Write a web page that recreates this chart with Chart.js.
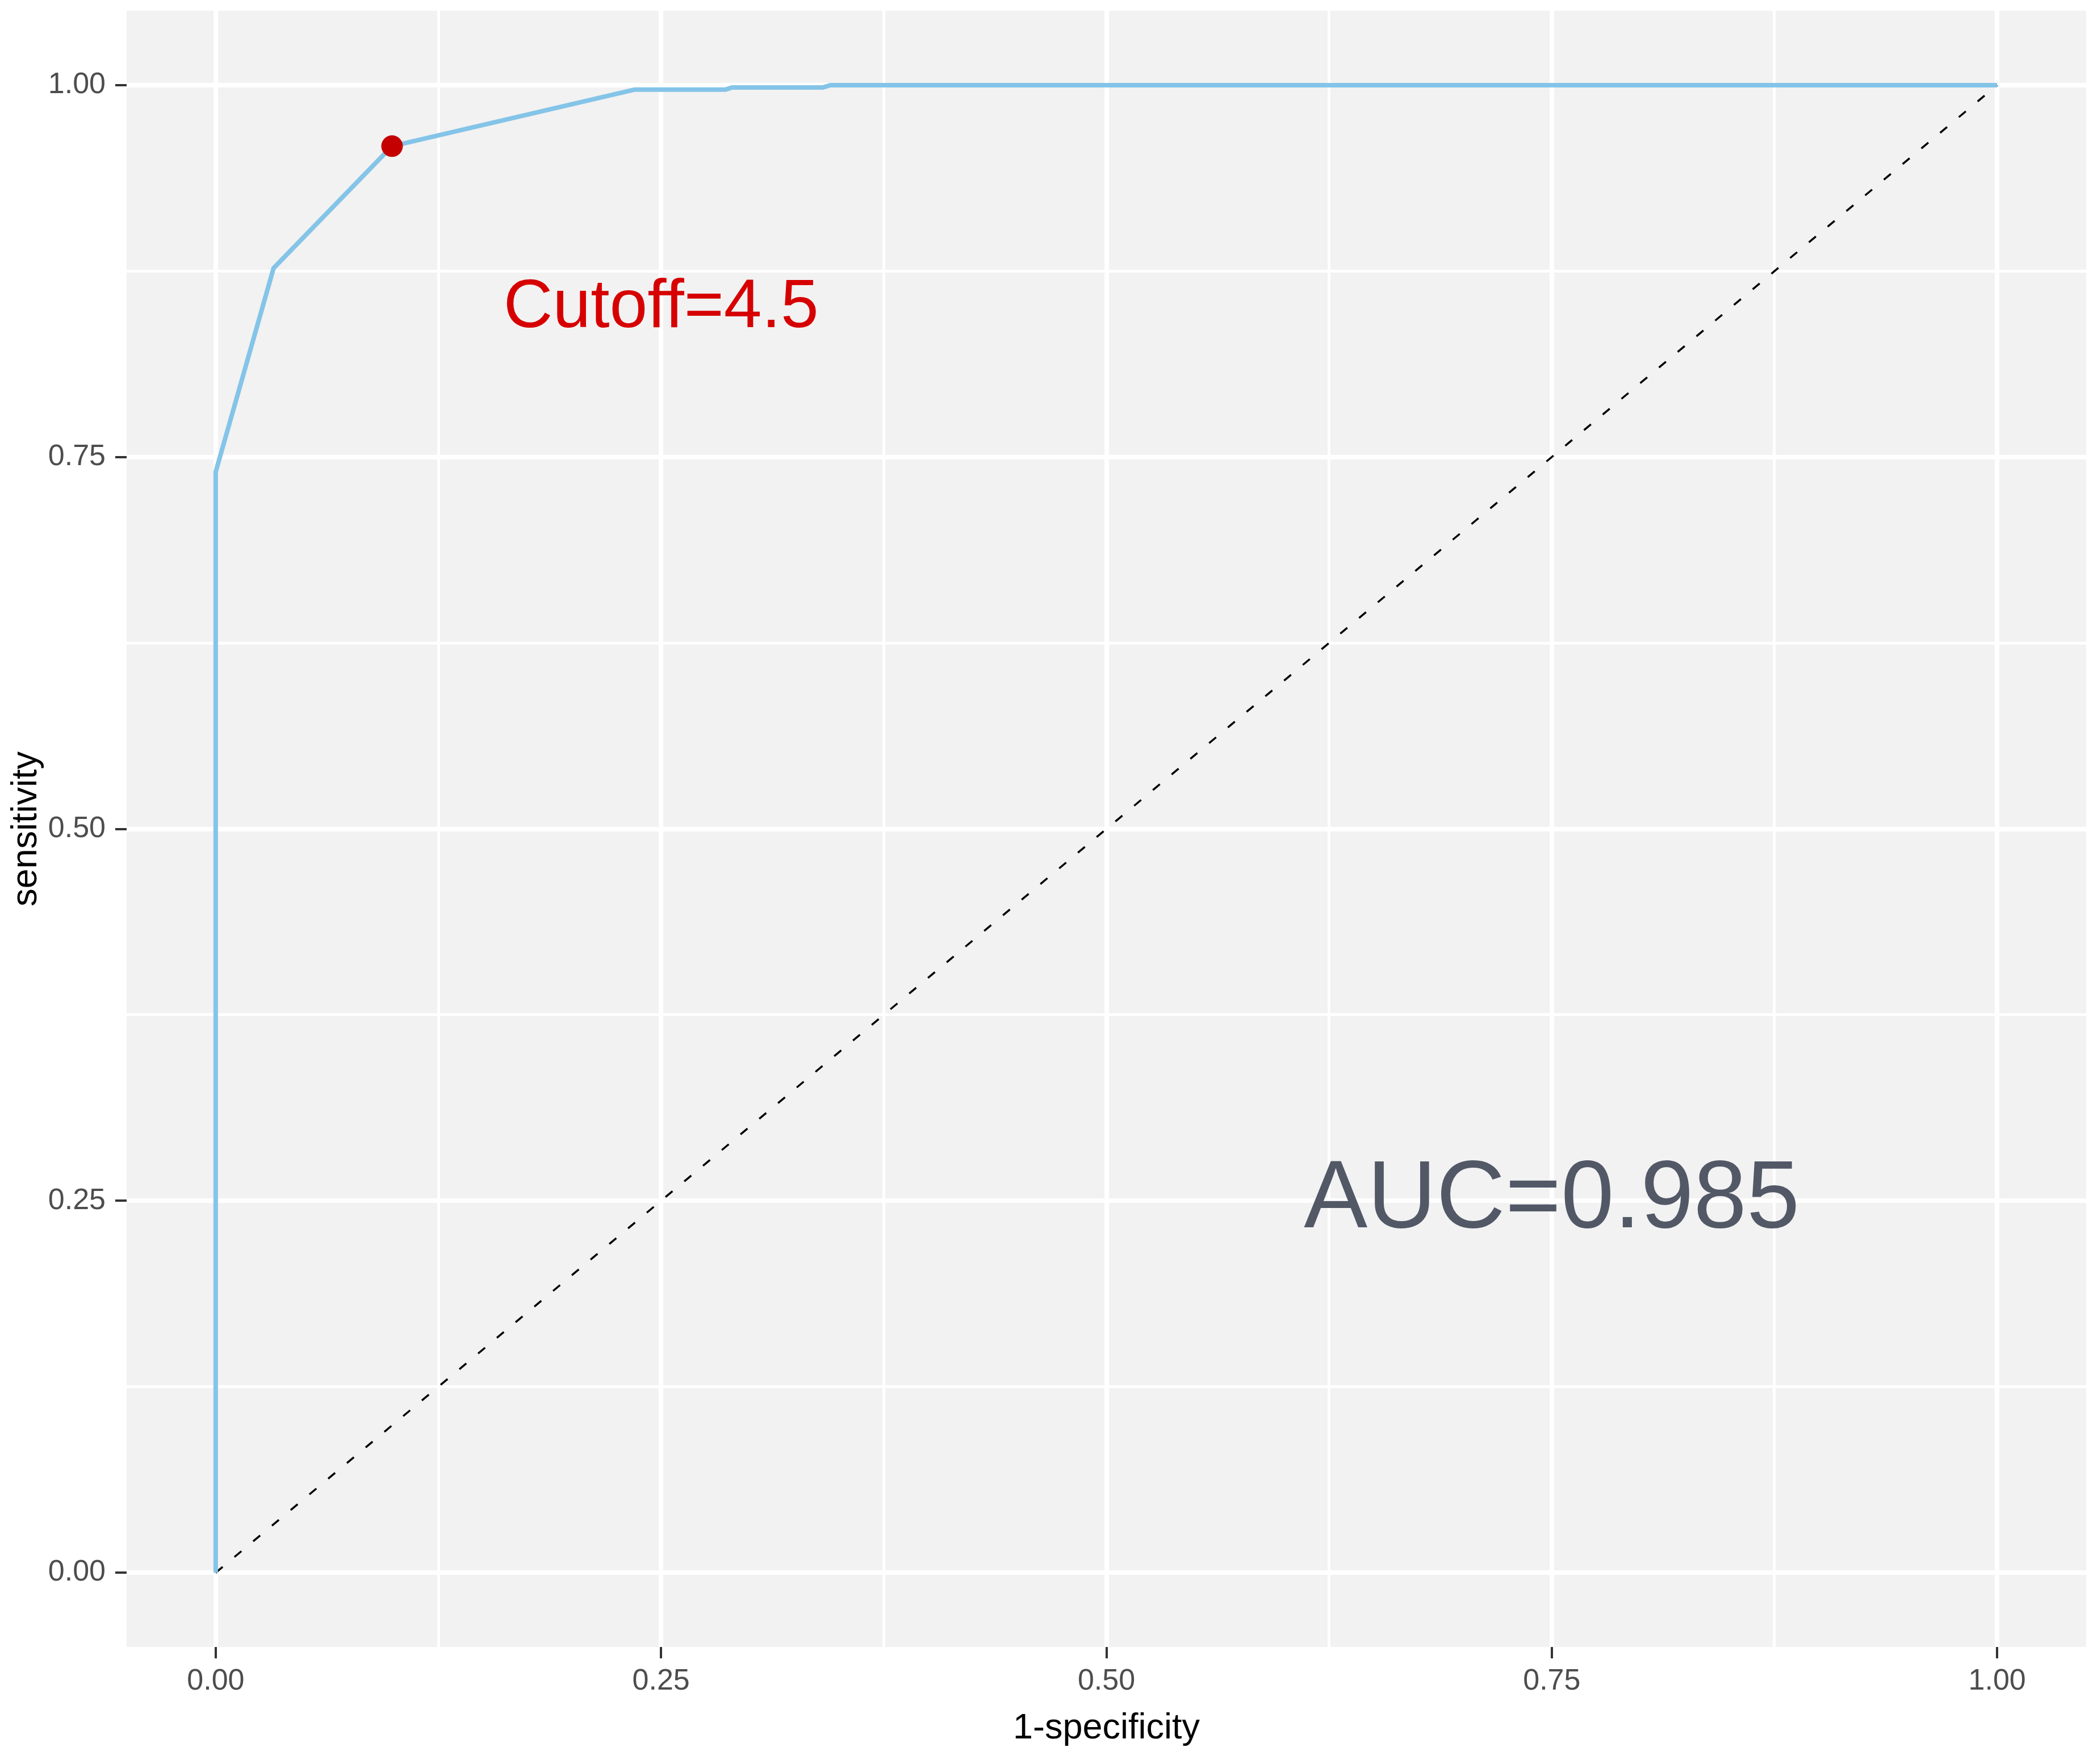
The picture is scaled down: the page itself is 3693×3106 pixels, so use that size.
<!DOCTYPE html>
<html>
<head>
<meta charset="utf-8">
<script src="https://cdn.jsdelivr.net/npm/chart.js@4.4.1/dist/chart.umd.min.js"></script>
<style>
  html, body { margin: 0; padding: 0; background: #ffffff; }
  #wrap { width: 3693px; height: 3106px; }
</style>
</head>
<body>
<div id="wrap"><canvas id="c" width="3693" height="3106"></canvas></div>
<script>
// ---- data ----
const rocFpr = [0, 0, 0.0325, 0.099, 0.235, 0.286, 0.29, 0.341, 0.345, 1];
const rocTpr = [0, 0.74, 0.877, 0.959, 0.997, 0.997, 0.9985, 0.9985, 1, 1];
const cutoffFpr = [0.099];
const cutoffTpr = [0.959];
const diagFpr = [0, 1];
const diagTpr = [0, 1];
const majorTicks = [0, 0.25, 0.5, 0.75, 1];
const minorTicks = [0.125, 0.375, 0.625, 0.875];
const tickLabels = ['0.00', '0.25', '0.50', '0.75', '1.00'];
const annoText = ['Cutoff=4.5', 'AUC=0.985'];
const annoX = [0.25, 0.75];
const annoY = [0.85, 0.25];
const xTitle = '1-specificity';
const yTitle = 'sensitivity';

const FONT = '"Liberation Sans", Arial, Helvetica, sans-serif';
const allTicks = majorTicks.concat(minorTicks).sort((a, b) => a - b);
const isMajor = v => majorTicks.some(m => Math.abs(m - v) < 1e-9);

const bgPlugin = {
  id: 'panelBg',
  beforeDraw(chart) {
    const { ctx, chartArea: a } = chart;
    ctx.save();
    ctx.fillStyle = '#ffffff';
    ctx.fillRect(0, 0, chart.width, chart.height);
    ctx.fillStyle = '#F2F2F2';
    ctx.fillRect(a.left, a.top, a.right - a.left, a.bottom - a.top);
    ctx.restore();
  }
};

const annoPlugin = {
  id: 'annoText',
  afterDatasetsDraw(chart) {
    const { ctx } = chart;
    const xs = chart.scales.x, ys = chart.scales.y;
    const styles = [
      { color: '#D60000', size: 120 },
      { color: '#525866', size: 168 }
    ];
    ctx.save();
    ctx.textAlign = 'center';
    ctx.textBaseline = 'middle';
    annoText.forEach((t, i) => {
      ctx.fillStyle = styles[i].color;
      ctx.font = styles[i].size + 'px ' + FONT;
      ctx.fillText(t, xs.getPixelForValue(annoX[i]), ys.getPixelForValue(annoY[i]));
    });
    ctx.restore();
  }
};

function axisOpts(isX) {
  return {
    type: 'linear',
    min: -0.05,
    max: 1.05,
    afterBuildTicks: (scale) => { scale.ticks = allTicks.map(v => ({ value: v })); },
    afterFit: (scale) => {
      if (isX) scale.height = 206; else scale.width = 223;
      scale.paddingTop = 0; scale.paddingBottom = 0;
      scale.paddingLeft = 0; scale.paddingRight = 0;
    },
    border: { display: false },
    grid: {
      color: '#FFFFFF',
      lineWidth: (c) => (c.tick && isMajor(c.tick.value)) ? 8 : 5,
      drawTicks: true,
      tickLength: 20,
      tickWidth: 4,
      tickColor: (c) => (c.tick && isMajor(c.tick.value)) ? '#333333' : 'rgba(0,0,0,0)'
    },
    ticks: {
      autoSkip: false,
      maxRotation: 0,
      minRotation: 0,
      padding: isX ? 15 : 17,
      color: '#4D4D4D',
      font: { family: FONT, size: 52, lineHeight: 1 },
      callback: (v) => {
        const i = majorTicks.findIndex(m => Math.abs(m - v) < 1e-9);
        return i >= 0 ? tickLabels[i] : '';
      }
    },
    title: {
      display: true,
      text: isX ? xTitle : yTitle,
      color: '#000000',
      font: { family: FONT, size: 63, lineHeight: 1 },
      padding: isX ? { top: 0, bottom: 31 } : { top: 15, bottom: 0 }
    }
  };
}

new Chart(document.getElementById('c'), {
  type: 'scatter',
  data: {
    datasets: [
      {
        label: 'cutoff',
        data: cutoffFpr.map((x, i) => ({ x, y: cutoffTpr[i] })),
        pointRadius: 19,
        pointBackgroundColor: '#C40000',
        pointBorderWidth: 0,
        showLine: false
      },
      {
        label: 'ROC',
        data: rocFpr.map((x, i) => ({ x, y: rocTpr[i] })),
        showLine: true,
        borderColor: '#84C4E8',
        borderWidth: 8,
        pointRadius: 0,
        tension: 0,
        fill: false,
        borderJoinStyle: 'round'
      },
      {
        label: 'diagonal',
        data: diagFpr.map((x, i) => ({ x, y: diagTpr[i] })),
        showLine: true,
        borderColor: '#000000',
        borderWidth: 3.5,
        borderDash: [16, 27],
        pointRadius: 0,
        tension: 0,
        fill: false
      }
    ]
  },
  options: {
    responsive: false,
    animation: false,
    devicePixelRatio: 1,
    layout: { padding: { top: 12, right: 13, left: 0, bottom: 0 } },
    plugins: { legend: { display: false }, tooltip: { enabled: false } },
    scales: { x: axisOpts(true), y: axisOpts(false) }
  },
  plugins: [bgPlugin, annoPlugin]
});
</script>
</body>
</html>
